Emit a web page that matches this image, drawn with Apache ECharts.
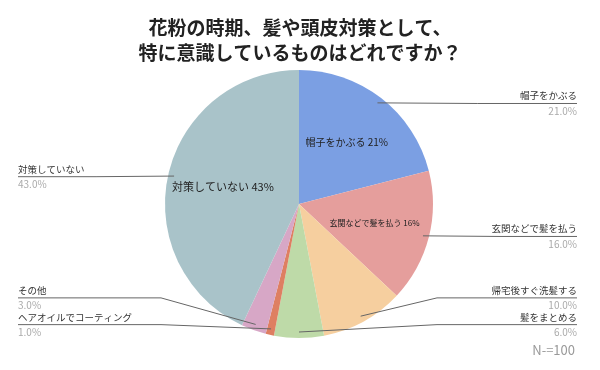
<!DOCTYPE html>
<html><head><meta charset="utf-8">
<script src="https://cdn.jsdelivr.net/npm/echarts@6/dist/echarts.min.js"></script>
<style>html,body{margin:0;padding:0;background:#fff}#c{width:600px;height:370px}</style>
</head><body><div id="c"></div>
<script>
// ---- data ----
const categories = ['帽子をかぶる', '玄関などで髪を払う', '帰宅後すぐ洗髪する', '髪をまとめる', 'ヘアオイルでコーティング', 'その他', '対策していない'];
const values = [21, 16, 10, 6, 1, 3, 43];
const insideLabelCategories = ['帽子をかぶる', '玄関などで髪を払う', '対策していない'];
const titleLines = ['花粉の時期、髪や頭皮対策として、', '特に意識しているものはどれですか？'];
const noteText = 'N-=100';

// ---- styles / layout ----
const colors = ['#7b9fe3', '#e59e9c', '#f6cf9f', '#bedaa8', '#de7f62', '#d7a7c6', '#a9c3c9'];
const insideFontSize = { '帽子をかぶる': 10, '玄関などで髪を払う': 8, '対策していない': 11 };
// outside labels of the crowded bottom area are laid out as their own group
const bottomLabelGroup = ['帰宅後すぐ洗髪する', '髪をまとめる', 'ヘアオイルでコーティング', 'その他'];
const FONT = "'Noto Sans CJK JP', 'Noto Sans', sans-serif";
const BOX = { left: 18, right: 23, top: 0, bottom: 32 };
const CX = 299, CY = 204;
const center = [CX - BOX.left, CY - BOX.top];
const R = 134;
const KINK = 138;

const chart = echarts.init(document.getElementById('c'));

const clear = 'rgba(0,0,0,0)';
const mainData = categories.map((n, i) => ({ name: n, value: values[i], itemStyle: { color: colors[i] } }));
const insideData = categories.map((n, i) => ({
  name: n, value: values[i], itemStyle: { color: clear },
  label: { show: insideLabelCategories.indexOf(n) >= 0, fontSize: insideFontSize[n] || 10 }
}));
const outerData = (inBottom) => categories.map((n, i) => ({
  name: n, value: values[i], itemStyle: { color: clear },
  label: { show: (bottomLabelGroup.indexOf(n) >= 0) === inBottom },
  labelLine: { show: (bottomLabelGroup.indexOf(n) >= 0) === inBottom }
}));

function outerSeries(inBottom) {
  return {
    type: 'pie', ...BOX, center: center, radius: 128, silent: true, z: 4,
    itemStyle: { borderWidth: 0 },
    avoidLabelOverlap: true,
    label: {
      position: 'outside', alignTo: 'edge', edgeDistance: 0, fontFamily: FONT,
      formatter: p => '{n|' + p.name + '}\n{p|' + p.percent.toFixed(1) + '%}',
      rich: {
        n: { fontSize: 9.5, color: '#333', lineHeight: 16, fontFamily: FONT },
        p: { fontSize: 10, color: '#aaa', lineHeight: 14, fontFamily: FONT }
      }
    },
    labelLine: { show: true, length: 0, length2: 10, lineStyle: { color: '#666', width: 1 } },
    labelLayout: function (p) {
      const pts = p.labelLinePoints;
      if (!pts) return {};
      const r = p.labelRect;
      const isLeft = r.x + r.width / 2 < CX;
      const y = r.y + r.height / 2;
      const endX = isLeft ? r.x : r.x + r.width;
      const start = pts[0];
      let mid;
      if (Math.abs(y - start[1]) < 1.5) mid = [(start[0] + endX) / 2, y];
      else mid = [isLeft ? CX - KINK : CX + KINK, y];
      return { labelLinePoints: [start, mid, [endX, y]] };
    },
    data: outerData(inBottom)
  };
}

chart.setOption({
  animation: false,
  title: [{
    text: titleLines.join('\n'), left: 'center', top: 15, padding: 0,
    textStyle: { fontFamily: FONT, fontSize: 19, fontWeight: 'bold', color: '#222', lineHeight: 25 }
  }, {
    text: noteText, right: 25, top: 344, padding: 0,
    textStyle: { fontFamily: FONT, fontSize: 13, fontWeight: 'normal', color: '#999' }
  }],
  series: [{
    type: 'pie', ...BOX, center: center, radius: R, silent: true,
    itemStyle: { borderWidth: 0 },
    label: { show: false }, labelLine: { show: false },
    data: mainData
  }, {
    type: 'pie', ...BOX, center: center, radius: 150, silent: true, z: 3,
    itemStyle: { borderWidth: 0 },
    label: {
      position: 'inside', color: '#222', fontFamily: FONT,
      formatter: p => p.name + ' ' + Math.round(p.percent) + '%'
    },
    labelLine: { show: false },
    data: insideData
  }, outerSeries(false), outerSeries(true)]
});
</script></body></html>
